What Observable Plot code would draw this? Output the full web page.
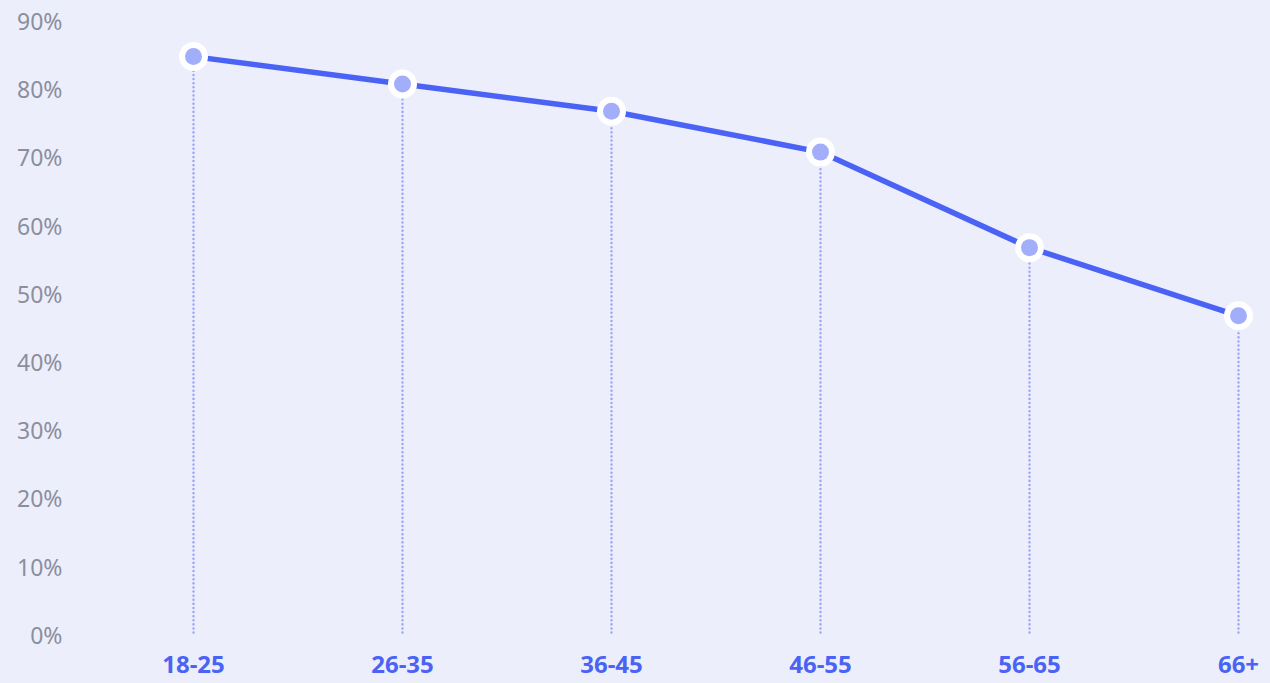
<!DOCTYPE html>
<html>
<head>
<meta charset="utf-8">
<script src="https://cdn.jsdelivr.net/npm/d3@7"></script>
<script src="https://cdn.jsdelivr.net/npm/@observablehq/plot@0.6"></script>
<style>
  html, body { margin: 0; padding: 0; background: #edeefc; }
  #chart svg { display: block; }
</style>
</head>
<body>
<div id="chart"></div>
<script>
const ageGroups = ["18-25", "26-35", "36-45", "46-55", "56-65", "66+"];
const shares = [0.85, 0.81, 0.77, 0.71, 0.57, 0.47];
const yTicks = [0, 0.1, 0.2, 0.3, 0.4, 0.5, 0.6, 0.7, 0.8, 0.9];

const data = ageGroups.map((g, i) => ({ group: g, value: shares[i] }));

const chart = Plot.plot({
  width: 1270,
  height: 683,
  marginLeft: 193,
  marginRight: 32,
  marginTop: 22,
  marginBottom: 47,
  style: { background: "#edeefc", fontFamily: "Noto Sans, sans-serif", overflow: "visible" },
  x: { type: "point", domain: ageGroups, padding: 0, label: null },
  y: { domain: [0, 0.9], label: null },
  marks: [
    Plot.axisY({
      ticks: yTicks, tickFormat: d => Math.round(d * 100) + "%",
      tickSize: 0, tickPadding: 131, fontSize: 23, fill: "#8b8e9c", label: null
    }),
    Plot.axisX({
      tickSize: 0, tickPadding: 19, fontSize: 24, fontWeight: "bold", fill: "#4a63f4", label: null
    }),
    Plot.ruleX(data, {
      x: "group", y1: 0.005, y2: "value",
      stroke: "#9aa5f6", strokeWidth: 2.4, strokeDasharray: "0.1,4", strokeLinecap: "round"
    }),
    Plot.line(data, { x: "group", y: "value", stroke: "#4a63f5", strokeWidth: 5.5 }),
    Plot.dot(data, { x: "group", y: "value", r: 14.5, fill: "white", stroke: "none" }),
    Plot.dot(data, { x: "group", y: "value", r: 8.5, fill: "#a3aefb", stroke: "none" })
  ]
});
document.getElementById("chart").append(chart);
</script>
</body>
</html>
